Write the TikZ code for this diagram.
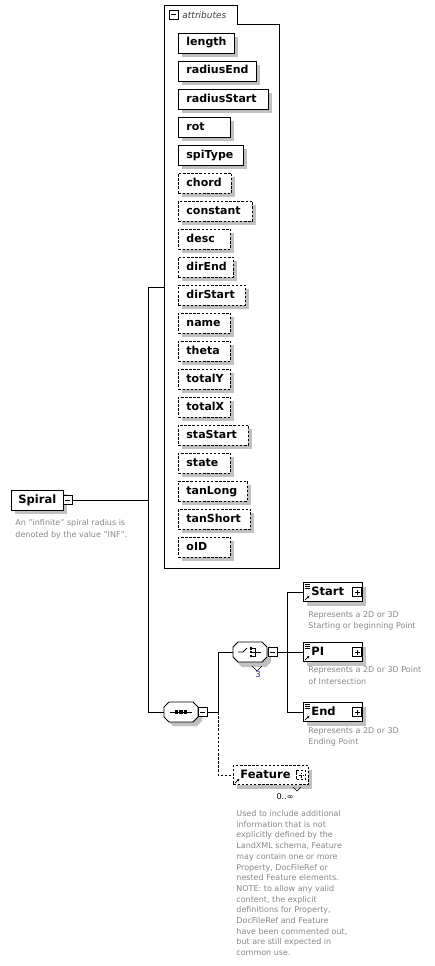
\documentclass[tikz,border=0pt]{standalone}
\usepackage{fontspec}
\setmainfont{DejaVu Sans}
\usetikzlibrary{shadows,arrows.meta}
\definecolor{shadowc}{RGB}{192,192,192}
\definecolor{descc}{RGB}{136,136,136}
\definecolor{numc}{RGB}{40,50,120}
\newcommand\attrnode[5]{\node[attrbox,#4,text width=#3pt,anchor=west] (#1) at (178,#2) {\hspace*{8pt}#5};}
\newcommand\refarrow[1]{\draw[line width=0.7pt,-{Latex[length=2.6pt,width=2.6pt]}] ([shift={(2,-1.8)}]#1.south west) -- ([shift={(6.5,-6.3)}]#1.south west);}
\newcommand\typelines[1]{\foreach \yy in {1.8,3.8,5.8}{\draw[line width=0.6pt] ([shift={(1.5,\yy)}]#1.north west) -- ([shift={(6.5,\yy)}]#1.north west);}}
\begin{document}
\begin{tikzpicture}[x=1pt,y=-1pt,line width=0.9pt,
 shd/.style={general shadow={fill=shadowc, shadow xshift=4pt, shadow yshift=-4pt}},
 attrbox/.style={draw, fill=white, shd, inner xsep=0pt, inner ysep=0pt, minimum height=20pt, text height=8.5pt, text depth=2.5pt, align=left, font=\bfseries\fontsize{11}{13}\selectfont},
 optl/.style={dash pattern=on 2.5pt off 1.6pt},
 elbox/.style={attrbox, minimum height=19pt, font=\bfseries\fontsize{11.5}{14}\selectfont, text height=9pt, text depth=3pt},
 sbox/.style={draw, fill=white, minimum size=9pt, inner sep=0pt, line width=0.7pt},
 minusb/.style={sbox, path picture={\draw[line width=0.7pt] ([xshift=2pt]path picture bounding box.west) -- ([xshift=-2pt]path picture bounding box.east);}},
 plusb/.style={sbox, path picture={\draw[line width=0.7pt] ([xshift=2pt]path picture bounding box.west) -- ([xshift=-2pt]path picture bounding box.east); \draw[line width=0.7pt] ([yshift=2pt]path picture bounding box.south) -- ([yshift=-2pt]path picture bounding box.north);}},
 desc/.style={anchor=north west, inner sep=0pt, align=left, text=descc, font=\fontsize{8}{11.5}\selectfont},
 comp/.style={minimum width=34pt, minimum height=20pt, inner sep=0pt},
]
\fill[white] (0,0) rectangle (435,966);
\useasboundingbox (0,0) rectangle (435,966);

% attributes container
\draw (164,568) -- (164,5) -- (237,5) -- (237,24) -- (279,24) -- (279,568) -- cycle;
\node[minusb] (attrm) at (173.5,14.5) {};
\node[anchor=west, inner sep=0pt, text=black!75, font=\itshape\fontsize{9}{11}\selectfont] (attrlbl) at (182,15) {attributes};
\coordinate (attrin) at (164,287);

\attrnode{length}{43}{56}{}{length}
\attrnode{radiusEnd}{71}{78}{}{radiusEnd}
\attrnode{radiusStart}{99}{90}{}{radiusStart}
\attrnode{rot}{127}{52}{}{rot}
\attrnode{spiType}{155}{65}{}{spiType}
\attrnode{chord}{183}{53}{optl}{chord}
\attrnode{constant}{211}{74}{optl}{constant}
\attrnode{desc}{239}{52}{optl}{desc}
\attrnode{dirEnd}{267}{55}{optl}{dirEnd}
\attrnode{dirStart}{295}{67}{optl}{dirStart}
\attrnode{name}{323}{52}{optl}{name}
\attrnode{theta}{351}{52}{optl}{theta}
\attrnode{totalY}{379}{52}{optl}{totalY}
\attrnode{totalX}{407}{52}{optl}{totalX}
\attrnode{staStart}{435}{70}{optl}{staStart}
\attrnode{state}{463}{52}{optl}{state}
\attrnode{tanLong}{491}{69}{optl}{tanLong}
\attrnode{tanShort}{519}{72}{optl}{tanShort}
\attrnode{oID}{547}{52}{optl}{oID}

% Spiral
\node[attrbox, font=\bfseries\fontsize{11.5}{13}\selectfont, text width=52pt, anchor=west] (spiral) at (11,500) {\hspace*{7pt}Spiral};
\node[minusb] (spiralm) at (67.5,500) {};
\node[desc] (spiraldesc) at (15,519) {An "infinite" spiral radius is\\denoted by the value "INF".};

% sequence compositor
\node[comp] (seq) at (181,712) {};
\begin{scope}[shift={(seq.center)}]
\fill[shadowc] (4,4) ++(-17,-5) -- ++(5,-5) -- ++(24,0) -- ++(5,5) -- ++(0,10) -- ++(-5,5) -- ++(-24,0) -- ++(-5,-5) -- cycle;
\draw[fill=white] (-17,-5) -- (-12,-10) -- (12,-10) -- (17,-5) -- (17,5) -- (12,10) -- (-12,10) -- (-17,5) -- cycle;
\draw (-11,0) -- (11,0);
\fill (-6.2,-1.7) rectangle (-2.8,1.7);
\fill (-1.7,-1.7) rectangle (1.7,1.7);
\fill (2.8,-1.7) rectangle (6.2,1.7);
\end{scope}
\node[minusb] (seqm) at (202.5,712) {};

% choice compositor
\node[comp] (choice) at (250,652) {};
\begin{scope}[shift={(choice.center)}]
\fill[shadowc] (4,5) ++(-17,-5) -- ++(5,-5) -- ++(24,0) -- ++(5,5) -- ++(0,10) -- ++(-5,5) -- ++(-24,0) -- ++(-5,-5) -- cycle;
\draw[line width=0.6pt] (2,14) -- (7,19) -- (12,14);
\draw[fill=white] (-17,-5) -- (-12,-10) -- (12,-10) -- (17,-5) -- (17,5) -- (12,10) -- (-12,10) -- (-17,5) -- cycle;
\draw (-12,0) -- (-7,0) -- (-3,-4);
\fill (-0.5,-5.2) rectangle (2.2,-2.5);
\fill (-0.5,-1.35) rectangle (2.2,1.35);
\fill (-0.5,2.5) rectangle (2.2,5.2);
\draw[line width=0.7pt] (2,-3.85) -- (5,-3.85) -- (5,3.85) -- (2,3.85);
\draw[line width=0.7pt] (2,0) -- (11,0);
\end{scope}
\node[minusb] (choicem) at (272.5,652) {};
\node[inner sep=0pt, text=numc, font=\fontsize{8.5}{10}\selectfont] (chocc) at (258,674) {3};

% elements Start, PI, End
\node[elbox, text width=59pt, anchor=west] (start) at (303,592) {\hspace*{8pt}Start};
\node[plusb] (startp) at (357,592) {};
\typelines{start}\refarrow{start}
\node[desc] (startdesc) at (308,611) {Represents a 2D or 3D\\Starting or beginning Point};

\node[elbox, text width=59pt, anchor=west] (pi) at (303,652) {\hspace*{8pt}PI};
\node[plusb] (pip) at (357,652) {};
\typelines{pi}\refarrow{pi}
\node[desc] (pidesc) at (308,666) {Represents a 2D or 3D Point\\of Intersection};

\node[elbox, text width=59pt, anchor=west] (end) at (303,712) {\hspace*{8pt}End};
\node[plusb] (endp) at (357,712) {};
\typelines{end}\refarrow{end}
\node[desc] (enddesc) at (308,727) {Represents a 2D or 3D\\Ending Point};

% Feature
\node[elbox, optl, text width=75pt, anchor=west] (feature) at (233,775) {\hspace*{7pt}Feature};
\draw[line width=0.6pt] (293,787) -- (297,791) -- (301,787);
\node[plusb, optl] (featurep) at (301,775) {};
\refarrow{feature}
\node[inner sep=0pt, font=\fontsize{8}{10}\selectfont] (featocc) at (285,797) {0..∞};
\node[desc, font=\fontsize{8}{10.7}\selectfont] (featdesc) at (236,810) {Used to include additional\\information that is not\\explicitly defined by the\\LandXML schema, Feature\\may contain one or more\\Property, DocFileRef or\\nested Feature elements.\\NOTE: to allow any valid\\content, the explicit\\definitions for Property,\\DocFileRef and Feature\\have been commented out,\\but are still expected in\\common use.};

% connectors
\coordinate (j1top) at (148,287);
\coordinate (j1) at (148,500);
\coordinate (j1bot) at (148,712);
\draw (spiralm.east) -- (j1);
\draw (j1top) -- (j1bot);
\draw (j1top) -- (attrin);
\draw (j1bot) -- (seq.west);

\coordinate (j2) at (218,712);
\coordinate (j2top) at (218,652);
\coordinate (j2bot) at (218,775);
\draw (seqm.east) -- (j2) -- (j2top) -- (choice.west);
\draw[optl] (j2) -- (j2bot) -- (feature.west);

\coordinate (j3top) at (287,592);
\coordinate (j3) at (287,652);
\coordinate (j3bot) at (287,712);
\draw (choicem.east) -- (j3);
\draw (j3top) -- (j3bot);
\draw (j3top) -- (start.west);
\draw (j3) -- (pi.west);
\draw (j3bot) -- (end.west);
\end{tikzpicture}
\end{document}
